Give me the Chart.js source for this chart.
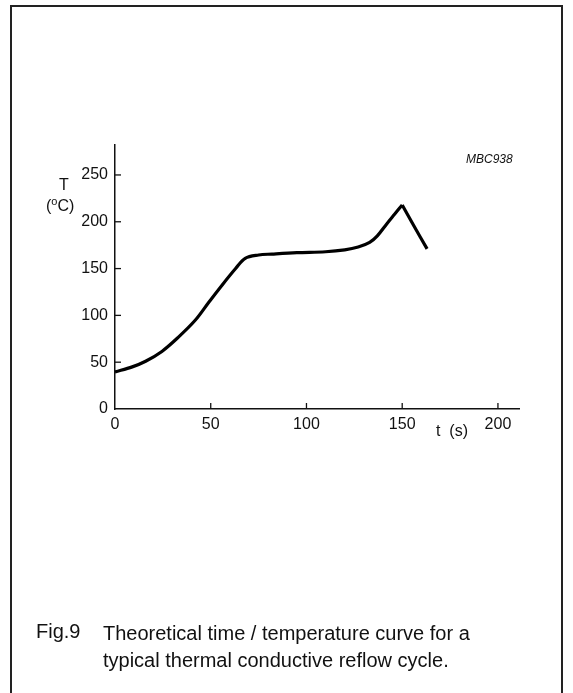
<!DOCTYPE html>
<html>
<head>
<meta charset="utf-8">
<script src="https://cdn.jsdelivr.net/npm/chart.js@4/dist/chart.umd.min.js"></script>
<style>
  body { margin: 0; background: #fff; font-family: "Liberation Sans", Arial, sans-serif; }
  #wrap { position: relative; width: 573px; height: 693px; overflow: hidden; }
  #frame { position: absolute; left: 10px; top: 5px; width: 553px; height: 720px; border: 2px solid #222; box-sizing: border-box; }
  canvas { position: absolute; left: 0; top: 0; }
  .lbl { position: absolute; color: #111; white-space: nowrap; }
</style>
</head>
<body>
<div id="wrap">
  <div id="frame"></div>
  <canvas id="chart" width="573" height="693"></canvas>
  <div class="lbl" style="left:59px; top:176px; font-size:16px;">T</div>
  <div class="lbl" style="left:46px; top:195px; font-size:16px;">(<sup style="font-size:11px;">o</sup>C)</div>
  <div class="lbl" style="left:436px; top:422px; font-size:16px;">t&nbsp;&nbsp;(s)</div>
  <div class="lbl" style="left:466px; top:152px; font-size:12px; font-style:italic;">MBC938</div>
  <div class="lbl" style="left:36px; top:620px; font-size:20px;">Fig.9</div>
  <div class="lbl" style="left:103px; top:620px; font-size:20px; line-height:27px;">Theoretical time / temperature curve for a<br>typical thermal conductive reflow cycle.</div>
</div>
<script>
// heating phase up to the peak (time s, temperature degC)
const riseTime = [0, 9, 16, 24.5, 33, 42, 49, 56, 63, 68, 75, 82, 95, 110, 120, 127, 133, 137, 142, 146, 150];
const riseTemp = [39.5, 45, 51, 61.5, 76.5, 95, 114, 132.5, 150, 161, 164.5, 165.5, 167, 168, 170, 173, 178, 185, 198, 208, 218];
// cooling after the peak
const fallTime = [150, 156, 163];
const fallTemp = [218, 196, 171];

const xTicks = [0, 50, 100, 150, 200];
const yTicks = [0, 50, 100, 150, 200, 250];

const toPoints = (xs, ys) => xs.map((x, i) => ({ x: x, y: ys[i] }));

// little ticks pointing into the plot, like the printed figure
const innerTicks = {
  id: 'innerTicks',
  afterDraw(chart) {
    const ctx = chart.ctx;
    const xs = chart.scales.x, ys = chart.scales.y;
    ctx.save();
    ctx.strokeStyle = '#111';
    ctx.lineWidth = 1.3;
    xTicks.forEach(v => {
      if (v === 0) return;
      const px = xs.getPixelForValue(v);
      ctx.beginPath(); ctx.moveTo(px, ys.bottom); ctx.lineTo(px, ys.bottom - 6); ctx.stroke();
    });
    yTicks.forEach(v => {
      if (v === 0) return;
      const py = ys.getPixelForValue(v);
      ctx.beginPath(); ctx.moveTo(xs.left, py); ctx.lineTo(xs.left + 6, py); ctx.stroke();
    });
    ctx.restore();
  }
};

new Chart(document.getElementById('chart'), {
  type: 'line',
  data: {
    datasets: [{
      data: toPoints(riseTime, riseTemp),
      borderColor: '#000',
      borderWidth: 3.2,
      pointRadius: 0,
      tension: 0.35,
      fill: false
    }, {
      data: toPoints(fallTime, fallTemp),
      borderColor: '#000',
      borderWidth: 3.2,
      pointRadius: 0,
      tension: 0.2,
      fill: false
    }]
  },
  options: {
    responsive: false,
    animation: false,
    layout: { padding: { top: 145, right: 54, left: 0, bottom: 0 } },
    plugins: { legend: { display: false }, tooltip: { enabled: false } },
    scales: {
      x: {
        type: 'linear',
        min: 0,
        max: 211,
        afterFit: s => { s.height = 284; },
        afterBuildTicks: s => { s.ticks = xTicks.map(v => ({ value: v })); },
        ticks: { color: '#111', font: { family: 'Liberation Sans', size: 16 }, padding: 6, maxRotation: 0 },
        grid: { display: true, drawOnChartArea: false, drawTicks: false },
        border: { color: '#111', width: 1.5 }
      },
      y: {
        min: 0,
        max: 282,
        afterFit: s => { s.width = 115; },
        afterBuildTicks: s => { s.ticks = yTicks.map(v => ({ value: v })); },
        ticks: { color: '#111', font: { family: 'Liberation Sans', size: 16 }, padding: 7 },
        grid: { display: true, drawOnChartArea: false, drawTicks: false },
        border: { color: '#111', width: 1.5 }
      }
    }
  },
  plugins: [innerTicks]
});
</script>
</body>
</html>
